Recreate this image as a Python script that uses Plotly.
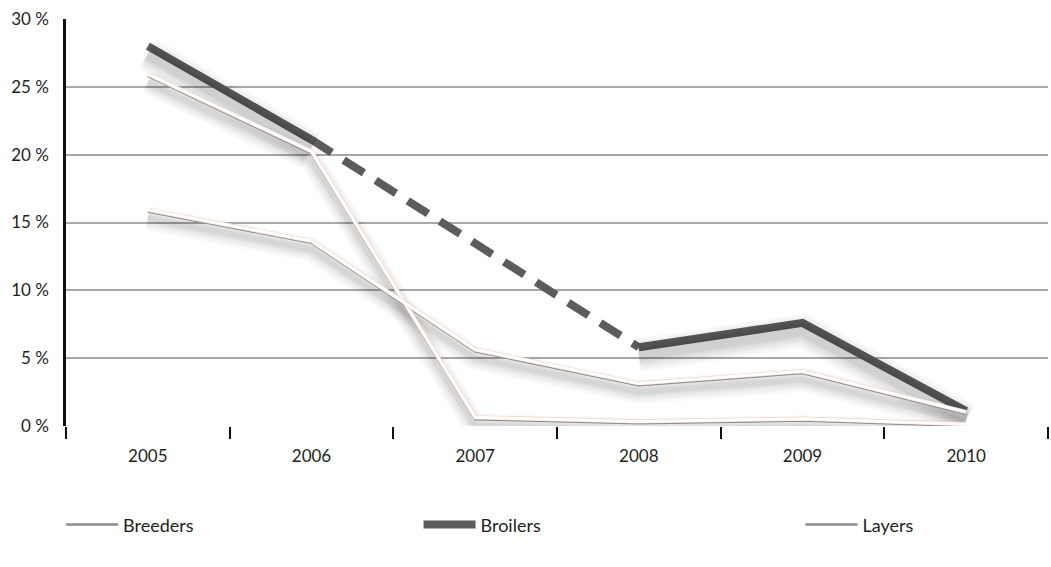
import plotly.graph_objects as go

# Share of positive flocks per year, by production type
years = ["2005", "2006", "2007", "2008", "2009", "2010"]
breeders = [25.9, 20.2, 0.6, 0.3, 0.5, 0.1]
broilers = [28.0, 21.1, None, 5.8, 7.6, 1.1]
layers = [15.9, 13.6, 5.6, 3.1, 4.0, 1.0]

y_ticks = [0, 5, 10, 15, 20, 25, 30]
y_tick_text = ["0 %", "5 %", "10 %", "15 %", "20 %", "25 %", "30 %"]

W, H = 1051, 567
M = dict(l=66, r=3, t=19, b=141)
plot_h = H - M["t"] - M["b"]
y_lo, y_hi = 0, 30
px_unit = (y_hi - y_lo) / plot_h  # data units per pixel


def shifted_range(px):
    """Axis range that draws the same values px pixels lower."""
    return [y_lo + px * px_unit, y_hi + px * px_unit]


fig = go.Figure()

DARK = "#5b5c5e"
EDGE = "#8a8b8d"

# soft drop shadows (drawn on an offset axis)
shadow_layers = ((30, 0.018), (24, 0.022), (18, 0.028), (12, 0.034), (7, 0.04))
for vals in (breeders, layers):
    for w, op in shadow_layers:
        fig.add_trace(go.Scatter(x=years, y=vals, yaxis="y2", mode="lines",
                                 line=dict(color="#000", width=w * 0.8),
                                 opacity=op, showlegend=False, hoverinfo="skip"))
for w, op in shadow_layers:
    fig.add_trace(go.Scatter(x=years, y=broilers, yaxis="y2", mode="lines",
                             line=dict(color="#000", width=w + 4),
                             opacity=op * 1.2, showlegend=False, hoverinfo="skip"))

# broilers: solid where data exist, dashed across the missing year
gap = broilers.index(None)
fig.add_trace(go.Scatter(x=[years[gap - 1], years[gap + 1]],
                         y=[broilers[gap - 1], broilers[gap + 1]],
                         mode="lines", line=dict(color=DARK, width=8, dash="24px,14px"),
                         showlegend=False, hoverinfo="skip"))
fig.add_trace(go.Scatter(x=years, y=broilers, mode="lines", name="Broilers",
                         line=dict(color=DARK, width=8), connectgaps=False,
                         legend="legend2"))

# white lines with a grey lower edge and a faint orange rim
for name, vals, leg in (("Breeders", breeders, "legend"), ("Layers", layers, "legend3")):
    fig.add_trace(go.Scatter(x=years, y=vals, yaxis="y3", mode="lines", name=name,
                             line=dict(color=EDGE, width=2.5), legend=leg))
    fig.add_trace(go.Scatter(x=years, y=vals, yaxis="y4", mode="lines",
                             line=dict(color="#f6d2c0", width=4.2),
                             showlegend=False, hoverinfo="skip"))
    fig.add_trace(go.Scatter(x=years, y=vals, yaxis="y4", mode="lines",
                             line=dict(color="#ffffff", width=3),
                             showlegend=False, hoverinfo="skip"))

tick_font = dict(family="Lato, sans-serif", size=17, color="#231f20")
legend_font = dict(family="Lato, sans-serif", size=18, color="#231f20")
hidden_axis = dict(overlaying="y", visible=False, showgrid=False, zeroline=False)


def legend_at(x):
    return dict(x=x, xanchor="left", y=-0.243, yanchor="middle",
                orientation="h", font=legend_font, itemwidth=52,
                bgcolor="rgba(0,0,0,0)", borderwidth=0)


fig.update_layout(
    width=W, height=H, margin=M,
    paper_bgcolor="white", plot_bgcolor="white",
    xaxis=dict(type="category", tickson="boundaries", ticks="outside",
               ticklen=12, tickwidth=2, tickcolor="#111", showgrid=False,
               showline=False, zeroline=False, tickfont=tick_font,
               range=[-0.5, 5.5], ticklabelstandoff=18),
    yaxis=dict(range=[y_lo, y_hi], tickvals=y_ticks, ticktext=y_tick_text,
               showgrid=True, gridcolor="#a7a8aa", gridwidth=1.6,
               zeroline=False, showline=True, linecolor="#111", linewidth=2.5,
               ticks="", tickfont=tick_font, ticklabelstandoff=11),
    yaxis2=dict(range=shifted_range(8), **hidden_axis),
    yaxis3=dict(range=shifted_range(1.3), **hidden_axis),
    yaxis4=dict(range=shifted_range(-0.5), **hidden_axis),
    legend=legend_at(-0.005),
    legend2=legend_at(0.359),
    legend3=legend_at(0.748),
)

fig.write_html("out.html")
